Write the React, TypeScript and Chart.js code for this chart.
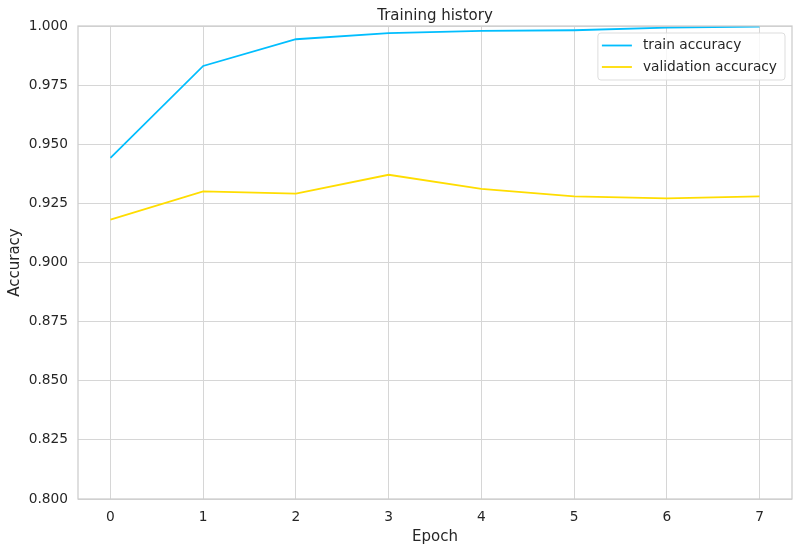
import React, { useEffect, useRef } from "react";
import { Chart, registerables } from "chart.js";

Chart.register(...registerables);

const epochs = [0, 1, 2, 3, 4, 5, 6, 7];
const trainAccuracy = [0.9442, 0.9831, 0.9944, 0.997, 0.9979, 0.9982, 0.9993, 0.9997];
const validationAccuracy = [0.9181, 0.9301, 0.9291, 0.9371, 0.9311, 0.928, 0.9271, 0.928];
const yTickValues = [0.8, 0.825, 0.85, 0.875, 0.9, 0.925, 0.95, 0.975, 1.0];
const xTickValues = [0, 1, 2, 3, 4, 5, 6, 7];
const seriesLabels = ["train accuracy", "validation accuracy"];
const seriesColors = ["#01BEFE", "#FFDD00"];
const chartTitle = "Training history";

const FONT = "'DejaVu Sans', sans-serif";
const TEXT = "#262626";
const GRID = "#d6d6d6";

const frameAndLegend = {
  id: "frameAndLegend",
  afterDatasetsDraw(chart: any) {
    const { ctx, chartArea } = chart;
    ctx.save();
    // frame (spines)
    ctx.strokeStyle = "#cccccc";
    ctx.lineWidth = 1.25;
    ctx.strokeRect(chartArea.left, chartArea.top, chartArea.right - chartArea.left, chartArea.bottom - chartArea.top);
    // title centred over the plot area
    ctx.font = `15px ${FONT}`;
    ctx.fillStyle = TEXT;
    ctx.textAlign = "center";
    ctx.textBaseline = "alphabetic";
    ctx.fillText(chartTitle, (chartArea.left + chartArea.right) / 2, 19.5);
    // legend
    const fontSize = 13.75;
    ctx.font = `${fontSize}px ${FONT}`;
    const items = chart.data.datasets.map((d: any) => ({ label: d.label, color: d.borderColor }));
    const textW = Math.max(...items.map((i: any) => ctx.measureText(i.label).width));
    const pad = 4;
    const lineLen = 30;
    const gap = 11;
    const rowH = 21.5;
    const boxW = pad + lineLen + gap + textW + 8;
    const boxH = rowH * items.length + 4;
    const x0 = chartArea.right - 7 - boxW;
    const y0 = chartArea.top + 7;
    const r = 3;
    ctx.beginPath();
    ctx.moveTo(x0 + r, y0);
    ctx.lineTo(x0 + boxW - r, y0);
    ctx.quadraticCurveTo(x0 + boxW, y0, x0 + boxW, y0 + r);
    ctx.lineTo(x0 + boxW, y0 + boxH - r);
    ctx.quadraticCurveTo(x0 + boxW, y0 + boxH, x0 + boxW - r, y0 + boxH);
    ctx.lineTo(x0 + r, y0 + boxH);
    ctx.quadraticCurveTo(x0, y0 + boxH, x0, y0 + boxH - r);
    ctx.lineTo(x0, y0 + r);
    ctx.quadraticCurveTo(x0, y0, x0 + r, y0);
    ctx.closePath();
    ctx.fillStyle = "rgba(255,255,255,0.8)";
    ctx.fill();
    ctx.strokeStyle = "#dddddd";
    ctx.lineWidth = 1;
    ctx.stroke();
    items.forEach((it: any, i: number) => {
      const cy = y0 + 12.5 + i * rowH;
      ctx.strokeStyle = it.color;
      ctx.lineWidth = 1.8;
      ctx.beginPath();
      ctx.moveTo(x0 + pad, cy);
      ctx.lineTo(x0 + pad + lineLen, cy);
      ctx.stroke();
      ctx.fillStyle = TEXT;
      ctx.textBaseline = "middle";
      ctx.textAlign = "left";
      ctx.fillText(it.label, x0 + pad + lineLen + gap, cy);
    });
    ctx.restore();
  },
};

export default function App() {
  const ref = useRef<HTMLCanvasElement | null>(null);
  useEffect(() => {
    document.body.style.margin = "0";
    const canvas = ref.current!;
    const chart = new Chart(canvas, {
      type: "line",
      data: {
        datasets: [
          {
            label: seriesLabels[0],
            data: epochs.map((e, i) => ({ x: e, y: trainAccuracy[i] })),
            borderColor: seriesColors[0],
            backgroundColor: seriesColors[0],
            borderWidth: 1.8,
            pointRadius: 0,
            tension: 0,
          },
          {
            label: seriesLabels[1],
            data: epochs.map((e, i) => ({ x: e, y: validationAccuracy[i] })),
            borderColor: seriesColors[1],
            backgroundColor: seriesColors[1],
            borderWidth: 1.8,
            pointRadius: 0,
            tension: 0,
          },
        ],
      },
      options: {
        animation: false,
        responsive: false,
        maintainAspectRatio: false,
        layout: { padding: { left: 0, right: 8, top: 26, bottom: 0 } },
        plugins: {
          legend: { display: false },
          tooltip: { enabled: false },
          title: { display: false },
        },
        scales: {
          x: {
            type: "linear",
            min: -0.35,
            max: 7.35,
            afterBuildTicks: (scale: any) => {
              scale.ticks = xTickValues.map((v) => ({ value: v }));
            },
            afterFit: (scale: any) => {
              scale.height = 52;
            },
            ticks: {
              color: TEXT,
              font: { family: FONT, size: 13.75 },
              padding: 10,
              maxRotation: 0,
              callback: (v: any) => String(v),
            },
            grid: { color: GRID, lineWidth: 1, drawTicks: false },
            border: { display: false },
            title: {
              display: true,
              text: "Epoch",
              color: TEXT,
              font: { family: FONT, size: 15 },
              padding: { top: 2, bottom: 5 },
            },
          },
          y: {
            type: "linear",
            min: 0.8,
            max: 1.0,
            afterBuildTicks: (scale: any) => {
              scale.ticks = yTickValues.map((v) => ({ value: v }));
            },
            afterFit: (scale: any) => {
              scale.width = 78;
            },
            ticks: {
              color: TEXT,
              font: { family: FONT, size: 13.75 },
              padding: 10,
              callback: (v: any) => Number(v).toFixed(3),
            },
            grid: { color: GRID, lineWidth: 1, drawTicks: false },
            border: { display: false },
            title: {
              display: true,
              text: "Accuracy",
              color: TEXT,
              font: { family: FONT, size: 15 },
              padding: { top: 6, bottom: 4 },
            },
          },
        },
      },
      plugins: [frameAndLegend],
    });
    return () => chart.destroy();
  }, []);
  return (
    <div style={{ position: "absolute", left: 0, top: 0, width: 800, height: 551, background: "#fff" }}>
      <canvas ref={ref} width={800} height={551} style={{ width: 800, height: 551, display: "block" }} />
    </div>
  );
}
